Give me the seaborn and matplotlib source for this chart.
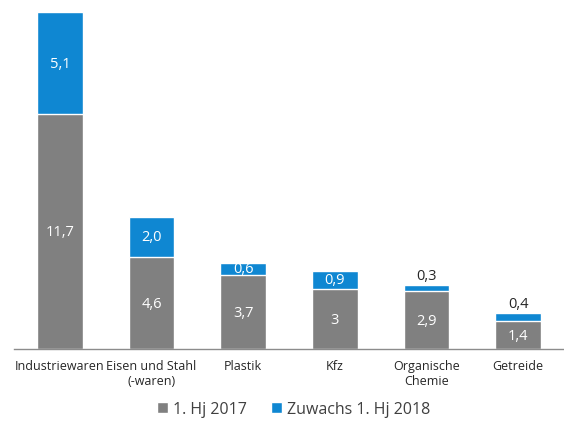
import pandas as pd
import matplotlib.pyplot as plt
import seaborn as sns
from matplotlib.patches import Patch

# Data
categories = ["Industriewaren", "Eisen und Stahl\n(-waren)", "Plastik", "Kfz", "Organische\nChemie", "Getreide"]
hj_2017 = [11.7, 4.6, 3.7, 3.0, 2.9, 1.4]
zuwachs_2018 = [5.1, 2.0, 0.6, 0.9, 0.3, 0.4]
labels_2017 = ["11,7", "4,6", "3,7", "3", "2,9", "1,4"]
labels_zuwachs = ["5,1", "2,0", "0,6", "0,9", "0,3", "0,4"]

gray = "#808080"
blue = "#0F87D2"

df = pd.DataFrame({"Kategorie": categories, "base": hj_2017, "inc": zuwachs_2018})
df["total"] = df["base"] + df["inc"]

sns.set_style("white")
plt.rcParams["font.family"] = ["Open Sans", "DejaVu Sans"]

fig = plt.figure(figsize=(5.64, 4.27), dpi=100)
ax = fig.add_axes([0.025, 0.18, 0.975, 0.808])

# stacked look: total bar in blue, base bar in gray on top
sns.barplot(data=df, x="Kategorie", y="total", color=blue, width=0.5, saturation=1, ax=ax)
sns.barplot(data=df, x="Kategorie", y="base", color=gray, width=0.5, saturation=1, ax=ax)

# value labels
for i, row in df.iterrows():
    ax.text(i, row["base"] / 2, labels_2017[i], ha="center", va="center", color="white", fontsize=10.5)
    if row["inc"] >= 0.5:
        ax.text(i, row["base"] + row["inc"] / 2, labels_zuwachs[i], ha="center", va="center",
                color="white", fontsize=10.5)
    else:
        ax.text(i, row["total"] + 0.1, labels_zuwachs[i], ha="center", va="bottom",
                color="#262626", fontsize=10.5)

ax.set_xlim(-0.5, len(categories) - 0.5)
ax.set_ylim(0, 17.2)
ax.set_xlabel("")
ax.set_ylabel("")
ax.set_yticks([])
for s in ["top", "right", "left"]:
    ax.spines[s].set_visible(False)
ax.spines["bottom"].set_color("#8c8c8c")
ax.spines["bottom"].set_linewidth(1)

ax.set_xticks(range(len(categories)))
ax.set_xticklabels(categories, fontsize=9, color="#262626")
ax.set_xticks([i - 0.5 for i in range(len(categories) + 1)], minor=True)
ax.tick_params(axis="x", which="major", length=0, pad=7)
ax.tick_params(axis="x", which="minor", length=5, color="#8c8c8c", width=1, direction="out")

handles = [Patch(facecolor=gray, label="1. Hj 2017"), Patch(facecolor=blue, label="Zuwachs 1. Hj 2018")]
fig.legend(handles=handles, loc="center", bbox_to_anchor=(0.52, 0.04), ncol=2, frameon=False,
           fontsize=11.5, handlelength=0.7, handleheight=0.7, handletextpad=0.3, columnspacing=1.5,
           labelcolor="#404040")

fig.savefig("out.png", dpi=100)
